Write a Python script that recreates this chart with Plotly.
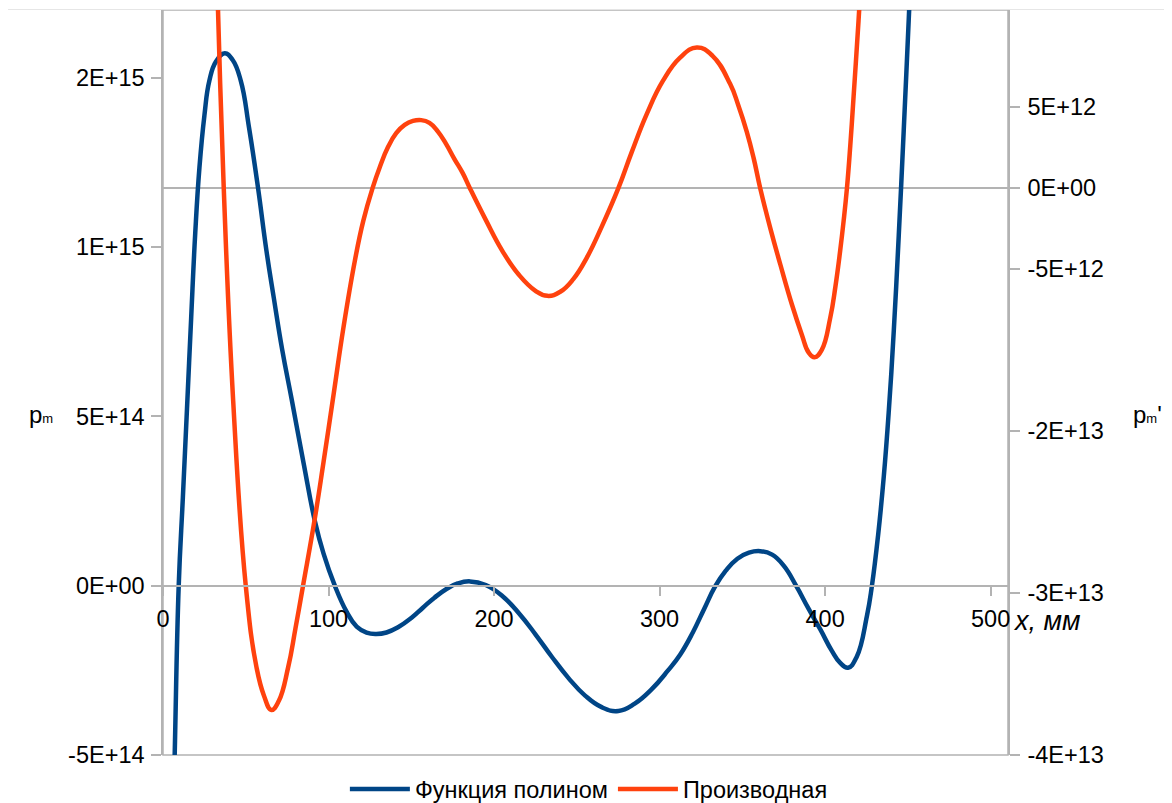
import plotly.graph_objects as go

# ---- data ----
poly_x = [5.5, 7.07, 9.49, 12.0, 14.5, 17.0, 19.5, 22.0, 25.0, 28.0, 32.0, 37.3, 42.0, 47.0,
          52.0, 57.4, 62.5, 67.0, 72.0, 77.9, 85.0, 91.7, 97.0, 103.8, 110.9, 117.0, 123.0,
          128.9, 135.0, 142.0, 150.0, 157.0, 164.0, 171.0, 178.0, 185.4, 195.0, 205.0, 215.0,
          225.0, 235.0, 245.0, 255.0, 265.0, 275.1, 285.0, 295.0, 305.0, 312.4, 320.0, 327.0,
          333.5, 340.0, 347.0, 354.0, 360.8, 368.0, 375.0, 382.8, 390.0, 397.2, 404.0, 409.0,
          413.8, 419.0, 425.3, 428.3, 432.0, 435.5, 438.5, 441.5, 444.5, 447.5, 450.5, 453.0]
poly_y = [-8.42e14, -4.99e14, 0.0, 2.60e14, 5.23e14, 7.89e14, 1.043e15, 1.234e15, 1.388e15,
          1.491e15, 1.548e15, 1.572e15, 1.553e15, 1.491e15, 1.352e15, 1.175e15, 9.89e14,
          8.48e14, 6.97e14, 5.46e14, 3.60e14, 1.92e14, 9.45e13, 0.0, -7.68e13, -1.211e14,
          -1.388e14, -1.426e14, -1.382e14, -1.229e14, -9.54e13, -6.50e13, -3.54e13, -1.06e13,
          6.5e12, 1.27e13, 2.1e12, -3.04e13, -8.12e13, -1.435e14, -2.106e14, -2.729e14,
          -3.246e14, -3.588e14, -3.700e14, -3.485e14, -3.071e14, -2.510e14, -2.038e14,
          -1.388e14, -6.79e13, -2.95e12, 4.43e13, 7.97e13, 9.75e13, 1.019e14, 9.16e13, 5.91e13,
          -2.95e12, -6.79e13, -1.300e14, -1.920e14, -2.274e14, -2.422e14, -2.112e14, -8.86e13,
          0.0, 1.477e14, 3.249e14, 5.168e14, 7.531e14, 1.034e15, 1.344e15, 1.669e15, 1.949e15]

deriv_x = [31.5, 33.25, 36.7, 42.4, 50.0, 56.5, 61.0, 65.5, 70.0, 75.6, 80.0, 84.6, 91.7, 97.0,
           103.2, 109.0, 115.9, 121.0, 126.6, 131.0, 136.0, 141.0, 146.0, 151.0, 156.0, 161.0,
           166.0, 171.0, 176.0, 181.0, 185.4, 195.0, 205.0, 215.0, 225.0, 232.2, 240.0, 248.0,
           256.0, 265.0, 275.1, 283.0, 292.3, 302.0, 312.4, 322.5, 332.0, 342.6, 347.5, 352.7,
           356.8, 360.8, 367.0, 373.0, 380.0, 386.0, 390.0, 393.6, 398.0, 403.1, 406.3, 409.1,
           411.2, 413.2, 415.2, 417.2, 420.2, 422.5]
deriv_y = [1.743e13, 1.092e13, 0.0, -1.313e13, -2.455e13, -2.959e13, -3.134e13, -3.222e13,
           -3.165e13, -2.959e13, -2.720e13, -2.455e13, -2.041e13, -1.690e13, -1.264e13,
           -8.62e12, -4.49e12, -2.02e12, 0.0, 1.31e12, 2.55e12, 3.41e12, 3.91e12, 4.15e12,
           4.20e12, 4.03e12, 3.51e12, 2.73e12, 1.81e12, 9.4e11, 0.0, -1.96e12, -3.87e12,
           -5.35e12, -6.34e12, -6.65e12, -6.40e12, -5.60e12, -4.30e12, -2.39e12, 0.0, 2.18e12,
           4.59e12, 6.62e12, 8.06e12, 8.68e12, 8.17e12, 6.44e12, 5.14e12, 3.48e12, 1.87e12, 0.0,
           -2.51e12, -4.73e12, -7.20e12, -9.06e12, -1.014e13, -1.044e13, -9.98e12, -8.01e12,
           -6.03e12, -3.87e12, -2.02e12, 0.0, 2.61e12, 5.64e12, 1.033e13, 1.434e13]

x_ticks = [0, 100, 200, 300, 400, 500]
y1_ticks = [-5e14, 0, 5e14, 1e15, 1.5e15]
y1_labels = ["-5E+14", "0E+00", "5E+14", "1E+15", "2E+15"]
y2_ticks = [-3.5e13, -2.5e13, -1.5e13, -5e12, 0, 5e12]
y2_labels = ["-4E+13", "-3E+13", "-2E+13", "-5E+12", "0E+00", "5E+12"]

series_names = ["Функция полином", "Производная"]

# ---- styling ----
FONT = "Liberation Sans"
GRAY = "#b3b3b3"
BLUE = "#004586"
ORANGE = "#ff420e"
y1_range = [-5e14, 1.7e15]
y2_range = [-3.5e13, 1.1e13]
x_range = [0, 510.5]
xaxis_pos = (0 - y1_range[0]) / (y1_range[1] - y1_range[0])

fig = go.Figure()
fig.add_trace(go.Scatter(x=poly_x, y=poly_y, name=series_names[0], mode="lines",
                         line=dict(color=BLUE, width=4.5, shape="spline", smoothing=1.3),
                         yaxis="y"))
fig.add_trace(go.Scatter(x=deriv_x, y=deriv_y, name=series_names[1], mode="lines",
                         line=dict(color=ORANGE, width=4.5, shape="spline", smoothing=1.3),
                         yaxis="y2"))

TS = 23.5
tickfont = dict(family=FONT, size=TS, color="#000000")

fig.update_layout(
    width=1164, height=806,
    margin=dict(l=155, r=164, t=2, b=59, autoexpand=False),
    paper_bgcolor="white", plot_bgcolor="white",
    font=dict(family=FONT, size=TS, color="#000000"),
    showlegend=True,
    legend=dict(orientation="h", x=0.504, xanchor="center", y=-0.046, yanchor="middle",
                font=dict(family=FONT, size=TS, color="#000000"),
                itemwidth=60, bgcolor="rgba(0,0,0,0)"),
    xaxis=dict(range=x_range, tickvals=x_ticks, ticktext=[str(v) for v in x_ticks],
               anchor="free", position=xaxis_pos, automargin=False,
               showline=True, linecolor=GRAY, linewidth=1.5,
               ticks="outside", ticklen=10, tickcolor=GRAY, tickwidth=1.5,
               ticklabelstandoff=2,
               showgrid=False, zeroline=False, tickfont=tickfont),
    yaxis=dict(range=y1_range, tickvals=y1_ticks, ticktext=y1_labels, automargin=False,
               showline=True, linecolor=GRAY, linewidth=1.5,
               ticks="outside", ticklen=10, tickcolor=GRAY, tickwidth=1.5,
               ticklabelstandoff=2,
               showgrid=False, zeroline=False, tickfont=tickfont),
    yaxis2=dict(range=y2_range, tickvals=y2_ticks, ticktext=y2_labels, automargin=False,
                overlaying="y", side="right",
                showline=True, linecolor=GRAY, linewidth=1.5,
                ticks="outside", ticklen=10, tickcolor=GRAY, tickwidth=1.5,
                ticklabelstandoff=3,
                showgrid=False, zeroline=True, zerolinecolor=GRAY, zerolinewidth=1.5,
                tickfont=tickfont),
)

# plot-area frame
fig.add_shape(type="rect", xref="paper", yref="paper", x0=0, x1=1, y0=0, y1=1,
              line=dict(color=GRAY, width=1.5), layer="below")
# faint outer line at top
fig.add_shape(type="line", xref="paper", yref="paper", x0=-0.1834, x1=1.2, y0=1.0007, y1=1.0007,
              line=dict(color="#e6e6e6", width=1), layer="below")

fig.add_annotation(text="p<span style='font-size:13px'>m</span>", xref="paper", yref="paper",
                   x=-0.1444, y=0.4577, xanchor="center", yanchor="middle", showarrow=False,
                   font=dict(family=FONT, size=24, color="#000000"))
fig.add_annotation(text="p<span style='font-size:13px'>m</span>'", xref="paper", yref="paper",
                   x=1.1645, y=0.4577, xanchor="center", yanchor="middle", showarrow=False,
                   font=dict(family=FONT, size=24, color="#000000"))
fig.add_annotation(text="<i>x, мм</i>", xref="paper", yref="paper",
                   x=1.0031, y=0.18, xanchor="left", yanchor="middle", showarrow=False,
                   font=dict(family=FONT, size=27, color="#000000"))

fig.write_html("out.html")
